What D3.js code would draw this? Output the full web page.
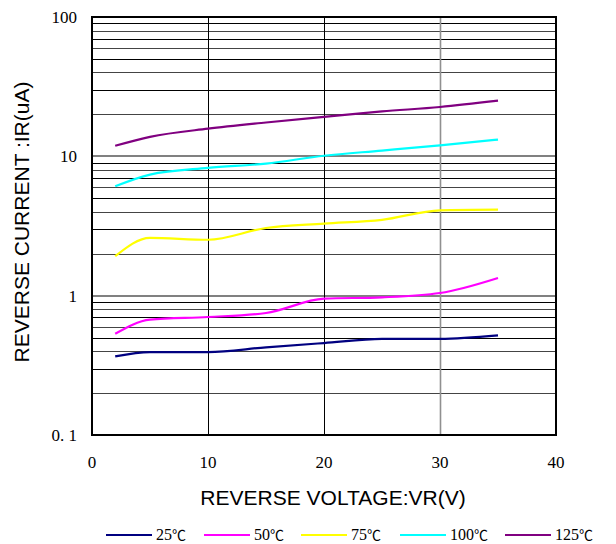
<!DOCTYPE html>
<html><head><meta charset="utf-8">
<script src="https://cdn.jsdelivr.net/npm/d3@7"></script>
<style>body{margin:0;background:#fff}</style>
</head><body>
<svg id="c" width="616" height="544"></svg>
<script>
const voltages = [2, 5, 10, 15, 20, 25, 30, 35];
const seriesNames = ["25", "50", "75", "100", "125"];
const seriesColors = ["#000080", "#ff00ff", "#ffff00", "#00ffff", "#800080"];
const ir25  = [0.367, 0.394, 0.394, 0.426, 0.457, 0.489, 0.490, 0.519];
const ir50  = [0.533, 0.673, 0.703, 0.751, 0.952, 0.973, 1.045, 1.34];
const ir75  = [1.92, 2.60, 2.52, 3.06, 3.29, 3.50, 4.10, 4.14];
const ir100 = [6.1, 7.4, 8.26, 8.87, 10.1, 11.0, 12.0, 13.2];
const ir125 = [11.9, 13.8, 15.8, 17.5, 19.2, 21.0, 22.6, 25.1];
const xTicks = [0, 10, 20, 30, 40];
const yTickLabels = ["0. 1", "1", "10", "100"];
const yTickValues = [0.1, 1, 10, 100];
const allSeries = [ir25, ir50, ir75, ir100, ir125];

const svg = d3.select("#c");
const L = 92, R = 556, T = 17, B = 435;
const x = d3.scaleLinear().domain([0, 40]).range([L, R]);
const y = d3.scaleLog().domain([0.1, 100]).range([B, T]);

const minor = [];
[0.1, 1, 10].forEach(d => { for (let k = 2; k <= 9; k++) minor.push(d * k); });
svg.append("g").selectAll("line").data(minor).join("line")
  .attr("x1", L).attr("x2", R)
  .attr("y1", d => Math.round(y(d)) + 0.5).attr("y2", d => Math.round(y(d)) + 0.5)
  .attr("stroke", (d, i) => (i % 2 ? "#000" : "#444")).attr("stroke-width", 1);
svg.append("g").selectAll("line").data([1, 10]).join("line")
  .attr("x1", L).attr("x2", R)
  .attr("y1", d => Math.round(y(d))).attr("y2", d => Math.round(y(d)))
  .attr("stroke", "#808080").attr("stroke-width", 2);
svg.append("g").selectAll("line").data([10, 20, 30]).join("line")
  .attr("y1", T).attr("y2", B)
  .attr("x1", d => Math.round(x(d)) + 0.5).attr("x2", d => Math.round(x(d)) + 0.5)
  .attr("stroke", d => d === 30 ? "#909090" : "#000")
  .attr("stroke-width", d => d === 30 ? 1.6 : 1);

svg.append("rect").attr("x", L).attr("y", T).attr("width", R - L).attr("height", B - T)
  .attr("fill", "none").attr("stroke", "#000").attr("stroke-width", 2);

const line = d3.line().x((d, i) => x(voltages[i])).y(d => y(d)).curve(d3.curveMonotoneX);
allSeries.forEach((s, i) => {
  svg.append("path").attr("d", line(s)).attr("fill", "none")
    .attr("stroke", seriesColors[i]).attr("stroke-width", 2.2);
});

const serif = "'Liberation Serif','DejaVu Serif',serif";
const sans = "'Liberation Sans',Arial,sans-serif";
const cjk = "'Noto Sans CJK SC',sans-serif";
svg.append("g").selectAll("text").data(xTicks).join("text")
  .attr("x", d => x(d)).attr("y", 468).attr("text-anchor", "middle")
  .attr("font-family", serif).attr("font-size", 17).text(d => d);
svg.append("g").selectAll("text").data(yTickValues).join("text")
  .attr("x", 77).attr("y", d => y(d) + 6).attr("text-anchor", "end")
  .attr("font-family", serif).attr("font-size", 17).text((d, i) => yTickLabels[i]);

svg.append("text").attr("x", 333).attr("y", 505).attr("text-anchor", "middle")
  .attr("font-family", sans).attr("font-size", 21).text("REVERSE VOLTAGE:VR(V)");
svg.append("text").attr("transform", "translate(29,222) rotate(-90)").attr("text-anchor", "middle")
  .attr("font-family", sans).attr("font-size", 21).text("REVERSE CURRENT :IR(uA)");

const legX = [106, 204, 301, 400, 505];
seriesNames.forEach((n, i) => {
  svg.append("line").attr("x1", legX[i]).attr("x2", legX[i] + 46).attr("y1", 535).attr("y2", 535)
    .attr("stroke", seriesColors[i]).attr("stroke-width", 2.2);
  const t = svg.append("text").attr("x", legX[i] + 50).attr("y", 540)
    .attr("font-family", serif).attr("font-size", 16);
  t.append("tspan").text(n);
  t.append("tspan").attr("font-family", cjk).attr("font-size", 14).text("℃");
});
</script>
</body></html>
